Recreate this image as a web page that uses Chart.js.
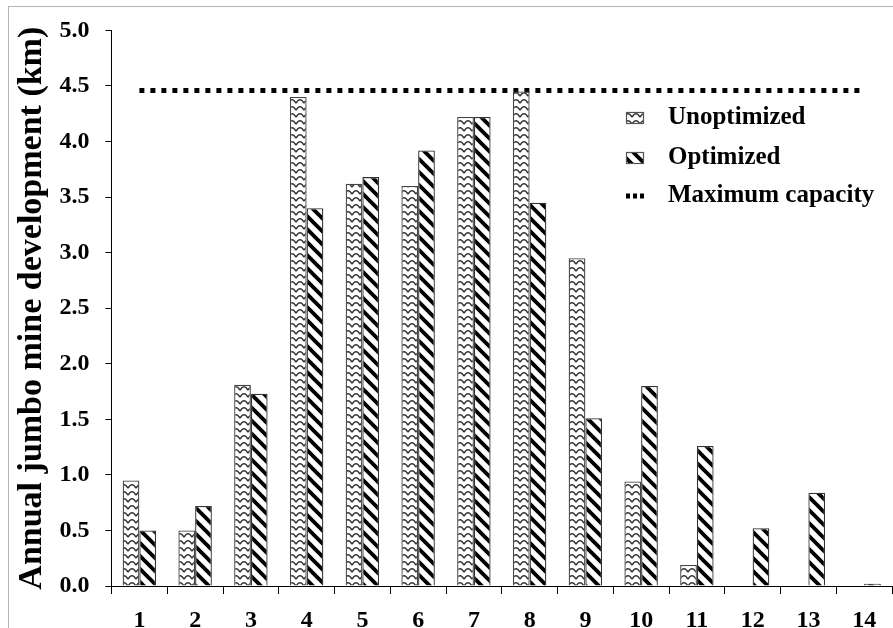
<!DOCTYPE html>
<html>
<head>
<meta charset="utf-8">
<script src="https://cdn.jsdelivr.net/npm/chart.js@4.4.1/dist/chart.umd.min.js"></script>
<style>
    html, body { margin: 0; padding: 0; background: #fff; }
    #wrap { width: 893px; height: 628px; position: relative; }
</style>
</head>
<body>
<div id="wrap"><canvas id="chartJumbo"></canvas></div>
<script>
// ======================== DATA ========================
const years = ['1', '2', '3', '4', '5', '6', '7', '8', '9', '10', '11', '12', '13', '14'];
const unoptimized = [0.95, 0.50, 1.81, 4.40, 3.62, 3.60, 4.22, 4.45, 2.95, 0.94, 0.19, 0, 0, 0];
const optimized = [0.50, 0.72, 1.73, 3.40, 3.68, 3.92, 4.22, 3.45, 1.51, 1.80, 1.26, 0.52, 0.84, 0.02];
const maxCapacity = [4.46, 4.46, 4.46, 4.46, 4.46, 4.46, 4.46, 4.46, 4.46, 4.46, 4.46, 4.46, 4.46, 4.46];
const yTicks = [0, 0.5, 1.0, 1.5, 2.0, 2.5, 3.0, 3.5, 4.0, 4.5, 5.0];

const serif = "'Liberation Serif', 'Times New Roman', serif";

// ======================== PATTERNS ========================
function patternZigzag() {
    const c = document.createElement('canvas');
    c.width = 8;
    c.height = 7;
    const g = c.getContext('2d');
    g.fillStyle = '#fff';
    g.fillRect(0, 0, 8, 7);
    g.strokeStyle = '#333';
    g.lineWidth = 1.6;
    g.beginPath();
    g.moveTo(0, 5.2);
    g.quadraticCurveTo(2, 1.5, 4, 1.8);
    g.quadraticCurveTo(6, 1.5, 8, 5.2);
    g.stroke();
    return g.createPattern(c, 'repeat');
}

function patternStripes() {
    const s = 13;
    const c = document.createElement('canvas');
    c.width = s;
    c.height = s;
    const g = c.getContext('2d');
    g.fillStyle = '#fff';
    g.fillRect(0, 0, s, s);
    g.strokeStyle = '#000';
    g.lineWidth = 3.8;
    g.beginPath();
    g.moveTo(-2, -2);
    g.lineTo(s + 2, s + 2);
    g.moveTo(-2, s - 2);
    g.lineTo(2, s + 2);
    g.moveTo(s - 2, -2);
    g.lineTo(s + 2, 2);
    g.stroke();
    return g.createPattern(c, 'repeat');
}

const fillUnopt = patternZigzag();
const fillOpt = patternStripes();

// ======================== FRAME + LEGEND ========================
const framePlugin = {
    id: 'frame',
    beforeDraw(chart) {
        const ctx = chart.ctx;
        ctx.save();
        ctx.fillStyle = '#fff';
        ctx.fillRect(0, 0, chart.width, chart.height);
        ctx.strokeStyle = '#b5b5b5';
        ctx.lineWidth = 1;
        ctx.strokeRect(8.5, 6.5, chart.width + 20, chart.height + 20);
        ctx.restore();
    },
};

const legendPlugin = {
    id: 'boxLegend',
    afterDraw(chart) {
        const ctx = chart.ctx;
        const ds = chart.data.datasets;
        const rows = [118, 158, 196];
        ctx.save();
        ctx.font = 'bold 25px ' + serif;
        ctx.textBaseline = 'middle';
        ctx.fillStyle = '#000';
        ds.forEach((d, i) => {
            const y = rows[i];
            if (d.type === 'line') {
                ctx.strokeStyle = '#000';
                ctx.lineWidth = 5;
                ctx.setLineDash([4, 3]);
                ctx.beginPath();
                ctx.moveTo(626, y);
                ctx.lineTo(644, y);
                ctx.stroke();
                ctx.setLineDash([]);
            } else {
                ctx.fillStyle = d.backgroundColor;
                ctx.fillRect(626, y - 6, 17, 12);
                ctx.strokeStyle = '#555';
                ctx.lineWidth = 1.2;
                ctx.strokeRect(626.5, y - 5.5, 17, 11);
            }
            ctx.fillStyle = '#000';
            ctx.fillText(d.label, 668, y);
        });
        ctx.restore();
    },
};

// ======================== CHART ========================
Chart.defaults.font.family = serif;
Chart.defaults.color = '#000';

new Chart(document.getElementById('chartJumbo').getContext('2d'), {
    type: 'bar',
    data: {
        labels: years,
        datasets: [
            {
                label: 'Unoptimized',
                data: unoptimized,
                backgroundColor: fillUnopt,
                borderColor: '#444',
                borderWidth: 1.3,
                borderSkipped: 'start',
                barPercentage: 1.0,
                categoryPercentage: 0.6,
            },
            {
                label: 'Optimized',
                data: optimized,
                backgroundColor: fillOpt,
                borderColor: '#333',
                borderWidth: 1.3,
                borderSkipped: 'start',
                barPercentage: 1.0,
                categoryPercentage: 0.6,
            },
            {
                type: 'line',
                label: 'Maximum capacity',
                data: maxCapacity,
                borderColor: '#000',
                borderWidth: 5,
                borderDash: [5, 6],
                borderCapStyle: 'butt',
                pointRadius: 0,
                fill: false,
            },
        ],
    },
    options: {
        responsive: true,
        maintainAspectRatio: false,
        animation: false,
        events: [],
        layout: { padding: { left: 8, top: 25, right: 1, bottom: 0 } },
        plugins: { legend: { display: false }, tooltip: { enabled: false } },
        scales: {
            x: {
                grid: {
                    drawOnChartArea: false,
                    color: '#000',
                    tickLength: 8,
                    offset: true,
                },
                border: { color: '#000', width: 1 },
                ticks: {
                    font: { size: 24, weight: 'bold' },
                    padding: 12,
                    maxRotation: 0,
                    autoSkip: false,
                },
                afterFit(scale) { scale.height = 42; },
            },
            y: {
                min: 0,
                max: 5,
                afterBuildTicks(scale) {
                    scale.ticks = yTicks.map((v) => ({ value: v }));
                },
                grid: { drawOnChartArea: false, color: '#000', tickLength: 6 },
                border: { color: '#000', width: 1 },
                ticks: {
                    font: { size: 24, weight: 'bold' },
                    padding: 16,
                    callback: (v) => Number(v).toFixed(1),
                },
                title: {
                    display: true,
                    text: 'Annual jumbo mine development (km)',
                    font: { size: 34, weight: 'bold' },
                    padding: { top: 4, bottom: 0 },
                },
                afterFit(scale) { scale.width = 103.5; },
            },
        },
    },
    plugins: [framePlugin, legendPlugin],
});
</script>
</body>
</html>
